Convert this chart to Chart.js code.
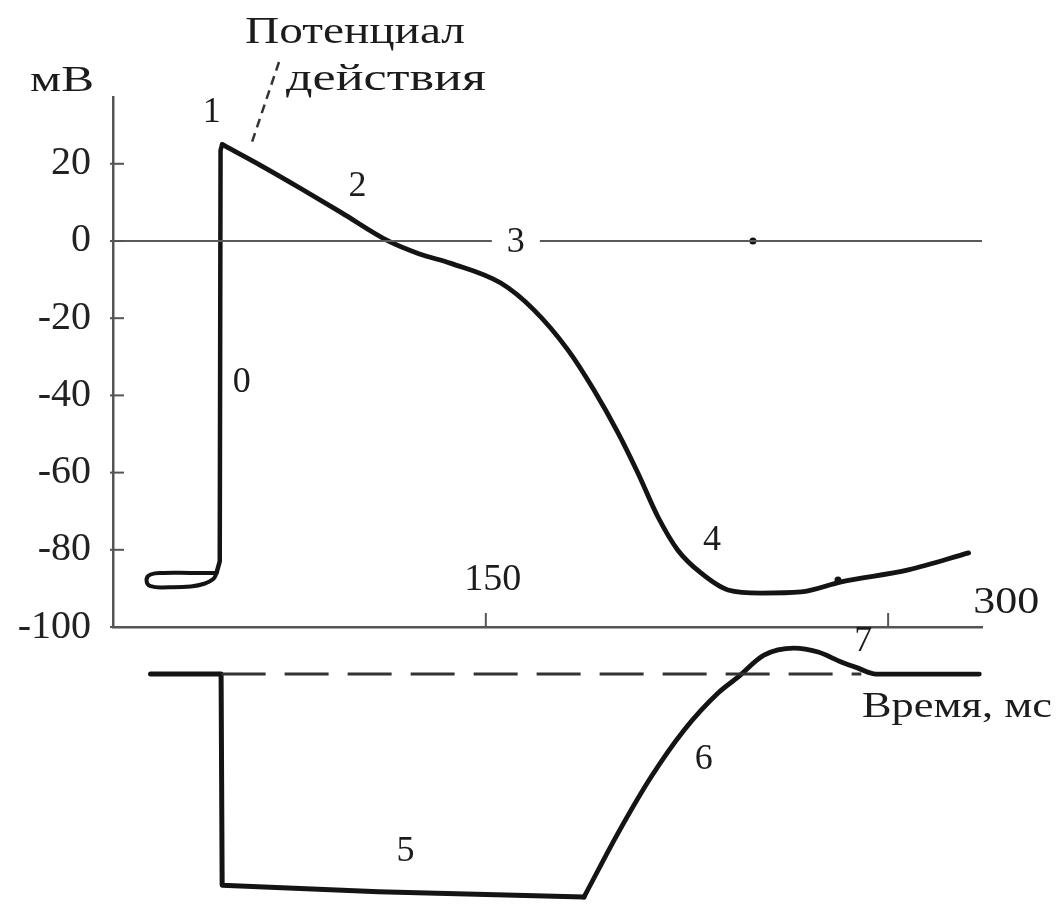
<!DOCTYPE html>
<html>
<head>
<meta charset="utf-8">
<script src="https://cdn.jsdelivr.net/npm/chart.js@4.4.1/dist/chart.umd.min.js"></script>
<style>
html, body { margin: 0; padding: 0; background: #fff; }
#wrap { width: 1058px; height: 907px; }
#apChart { filter: blur(0.6px); }
</style>
</head>
<body>
<div id="wrap"><canvas id="apChart"></canvas></div>
<script>
// время, мс -> потенциал, мВ (петля покоя, фаза 0, фазы 1-4)
var restTime = [49.6, 40, 30, 25, 23.5, 25, 32, 40, 45, 48.5, 49.6];
var restVolt = [-86, -86, -86, -86.4, -87.8, -89.4, -89.7, -89.5, -88.8, -87.5, -86];
var upTime = [49.6, 50.8, 51.1, 51.7];
var upVolt = [-86, -83, 23.5, 25];
var repolTime = [51.7, 66, 81, 96, 113.6, 125, 137, 155.6, 168, 180.6, 190.3, 199.3, 206.7, 214.2, 221.6, 230.2, 240.3, 252.6, 267.5, 282.5, 307.5, 330];
var repolVolt = [25, 19.6, 13.6, 7.4, 0, -3.3, -5.8, -10.9, -17.9, -28.2, -38.6, -49.7, -60.1, -71.5, -80.1, -86, -90.4, -91.2, -90.9, -88.3, -85.2, -80.8];

// ток (усл. ед.), фазы 5-7
var currStepTime = [25, 51.3, 51.7, 110, 186.6];
var currStepVal = [0, 0, -96, -99, -101.4];
var currRiseTime = [186.6, 199.3, 211.6, 223.9, 236.6, 244, 253.7, 264.9, 273.9, 282.5, 288.8, 295.5, 334];
var currRiseVal = [-101.4, -72.3, -46.8, -25.5, -8.6, -1.4, 8.6, 11.8, 10, 5.5, 2.7, 0, 0];
var baseTime = [51.5, 290];

var xMin = 11, xMax = 335;
var xTicks = [150, 300];
var yTicks = [20, 0, -20, -40, -60, -80, -100];
var yMin = -100, yMax = 37.3;

function pts(xs, ys) {
  return xs.map(function (x, i) { return { x: x, y: ys[i] }; });
}

var ink = '#141414';
var serif = '"Liberation Serif", "Times New Roman", serif';

function txt(c, s, x, y, size, width) {
  c.save();
  c.font = size + 'px ' + serif;
  c.textAlign = 'center';
  c.textBaseline = 'middle';
  c.fillStyle = '#1c1c1c';
  var w = c.measureText(s).width;
  c.translate(x, y);
  if (width) c.scale(width / w, 1);
  c.fillText(s, 0, 0);
  c.restore();
}

var annot = {
  id: 'annot',
  afterDraw: function (chart) {
    var c = chart.ctx, xs = chart.scales.x, ys = chart.scales.y, y2 = chart.scales.y2;
    var left = chart.chartArea.left, top = chart.chartArea.top;
    var axisY = ys.getPixelForValue(-100);

    // short inner ticks on the mV axis
    c.save();
    c.strokeStyle = '#555';
    c.lineWidth = 2;
    yTicks.forEach(function (v) {
      var py = ys.getPixelForValue(v);
      c.beginPath(); c.moveTo(left - 3, py); c.lineTo(left + 11, py); c.stroke();
    });
    xTicks.forEach(function (v) {
      var px = xs.getPixelForValue(v);
      c.beginPath(); c.moveTo(px, axisY); c.lineTo(px, axisY - 14); c.stroke();
    });
    c.restore();

    // gap in zero line around "3"
    var p3x = xs.getPixelForValue(161.2), p3y = ys.getPixelForValue(0);
    c.fillStyle = '#fff';
    c.fillRect(p3x - 24, p3y - 14, 48, 28);

    // tick labels of time axis (above the axis)
    txt(c, '150', xs.getPixelForValue(150) + 7, axisY - 47, 38);
    txt(c, '300', xs.getPixelForValue(300) + 118, axisY - 24, 38, 66);

    // phase numbers
    txt(c, '1', xs.getPixelForValue(47.8), ys.getPixelForValue(33.2), 36);
    txt(c, '2', xs.getPixelForValue(102.2), ys.getPixelForValue(14.2), 36);
    txt(c, '3', p3x, p3y + 2, 36);
    txt(c, '0', xs.getPixelForValue(59), ys.getPixelForValue(-36.8), 36);
    txt(c, '4', xs.getPixelForValue(234.3), ys.getPixelForValue(-77.5), 36);
    txt(c, '5', xs.getPixelForValue(120.1), y2.getPixelForValue(-80.9), 36);
    txt(c, '6', xs.getPixelForValue(231.3), y2.getPixelForValue(-39), 36);
    txt(c, '7', xs.getPixelForValue(290.7), y2.getPixelForValue(15), 36);

    // axis titles and caption
    txt(c, 'мВ', left - 51, top - 15, 36, 64);
    txt(c, 'Время, мс', 957, y2.getPixelForValue(-15), 36, 190);
    txt(c, 'Потенциал', 355, 33, 37, 220);
    txt(c, 'действия', 386, 80, 37, 200);

    // dashed leader to the peak
    c.save();
    c.strokeStyle = '#333';
    c.lineWidth = 2.5;
    c.setLineDash([9, 6]);
    c.beginPath(); c.moveTo(279, 62); c.lineTo(252, 142); c.stroke();
    c.restore();
  }
};

var lineBase = { pointRadius: 0, fill: false, borderColor: ink, borderCapStyle: 'round', borderJoinStyle: 'round' };

new Chart(document.getElementById('apChart'), {
  type: 'line',
  data: {
    datasets: [
      Object.assign({}, lineBase, { data: pts([xMin, xMax], [0, 0]), borderColor: '#5a5a5a', borderWidth: 2, yAxisID: 'y' }),
      Object.assign({}, lineBase, { data: pts(restTime, restVolt), borderWidth: 4, tension: 0.45, yAxisID: 'y' }),
      Object.assign({}, lineBase, { data: pts(upTime, upVolt), borderWidth: 4.5, tension: 0, yAxisID: 'y' }),
      Object.assign({}, lineBase, { data: pts(repolTime, repolVolt), borderWidth: 4.8, cubicInterpolationMode: 'monotone', yAxisID: 'y' }),
      Object.assign({}, lineBase, { data: pts(baseTime, [0, 0]), borderColor: '#333', borderWidth: 3, borderDash: [44, 19], borderCapStyle: 'butt', yAxisID: 'y2' }),
      Object.assign({}, lineBase, { data: pts(currStepTime, currStepVal), borderWidth: 5, tension: 0, yAxisID: 'y2' }),
      Object.assign({}, lineBase, { data: pts(currRiseTime, currRiseVal), borderWidth: 4.8, cubicInterpolationMode: 'monotone', yAxisID: 'y2' }),
      { data: [{ x: 249.6, y: 0 }, { x: 281.3, y: -87.8 }], showLine: false, pointRadius: 3.5, pointBackgroundColor: ink, pointBorderWidth: 0, yAxisID: 'y' }
    ]
  },
  options: {
    responsive: true,
    maintainAspectRatio: false,
    animation: false,
    events: [],
    layout: { padding: { top: 97, right: 76, bottom: 4, left: 0 } },
    plugins: { legend: { display: false }, tooltip: { enabled: false } },
    scales: {
      x: {
        type: 'linear', min: xMin, max: xMax,
        position: { y: -100 },
        grid: { display: false, drawTicks: false },
        border: { display: true, color: '#555', width: 2.5 },
        ticks: { display: false },
        afterBuildTicks: function (s) { s.ticks = xTicks.map(function (v) { return { value: v }; }); }
      },
      y: {
        type: 'linear', min: yMin, max: yMax,
        position: 'left', stack: 'v', stackWeight: 530, weight: 2,
        grid: { display: false, drawTicks: false },
        border: { display: true, color: '#555', width: 2.5 },
        ticks: {
          padding: 22, color: '#222', autoSkip: false,
          font: { family: serif, size: 40 },
          callback: function (v) { return String(v); }
        },
        afterBuildTicks: function (s) { s.ticks = yTicks.map(function (v) { return { value: v }; }); },
        afterFit: function (s) { s.width = 113; s.paddingTop = 0; s.paddingBottom = 0; }
      },
      y2: {
        type: 'linear', min: -104.1, max: 21.4,
        position: 'left', stack: 'v', stackWeight: 276, weight: 1,
        grid: { display: false, drawTicks: false },
        border: { display: false },
        ticks: { display: false },
        afterFit: function (s) { s.width = 113; s.paddingTop = 0; s.paddingBottom = 0; }
      }
    }
  },
  plugins: [annot]
});
</script>
</body>
</html>
